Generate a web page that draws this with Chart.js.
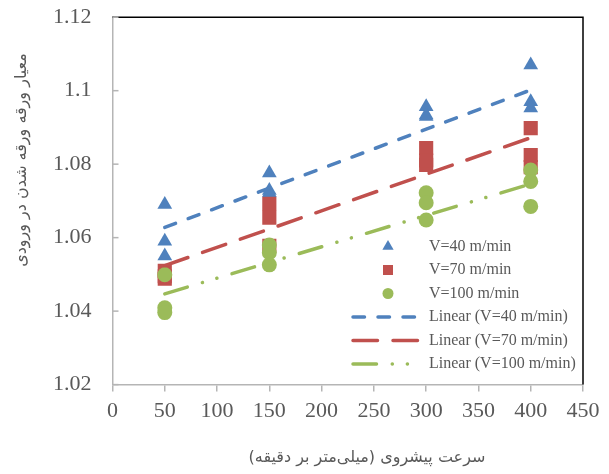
<!DOCTYPE html>
<html lang="fa">
<head>
<meta charset="UTF-8">
<title>Feed rate vs. entry delamination factor</title>
<script src="https://cdn.jsdelivr.net/npm/chart.js@4"></script>
<style>
  body { margin: 0; background: #fff; }
  canvas { display: block; }
</style>
</head>
<body>
<canvas id="myChart" width="609" height="474"></canvas>
<script>
// feed rate (mm/min) and three repeated measurements per feed rate
const feedRates = [50, 150, 300, 400];
const v40 = [[1.069, 1.059, 1.055], [1.0776, 1.0728, 1.0722], [1.0956, 1.0934, 1.093], [1.107, 1.097, 1.0953]];
const v70 = [[1.051, 1.0488, 1.0495], [1.0692, 1.0654, 1.0578], [1.0844, 1.0798, 1.081], [1.0898, 1.0825, 1.0792]];
const v100 = [[1.0499, 1.0409, 1.0396], [1.058, 1.0559, 1.0526], [1.0722, 1.0695, 1.0648], [1.0784, 1.0753, 1.0685]];

// trendline end points
const trendX = [50, 400];
const trend40 = [1.0628, 1.1002];
const trend70 = [1.0524, 1.0872];
const trend100 = [1.0447, 1.0746];

const seriesLabels = ['V=40 m/min', 'V=70 m/min', 'V=100 m/min'];
const yTitle = 'معیار ورقه ورقه شدن در ورودی';
const xTitle = 'سرعت پیشروی (میلی\u200cمتر بر دقیقه)';

const BLUE = '#4F81BD', RED = '#C0504D', GREEN = '#9BBB59';
const GREY_TEXT = '#595959', AXIS = '#b5b5b5';

function toPoints(xs, rows) {
  const pts = [];
  xs.forEach((x, i) => rows[i].forEach(y => pts.push({ x, y })));
  return pts;
}
function toLine(xs, ys) {
  return xs.map((x, i) => ({ x, y: ys[i] }));
}

function markerDataset(label, rows, color, style, radius, order) {
  return {
    type: 'scatter', label, data: toPoints(feedRates, rows),
    pointStyle: style, pointRadius: radius, backgroundColor: color,
    borderColor: color, borderWidth: 0, order
  };
}
function trendDataset(label, ys, color, dash) {
  return {
    type: 'line', label, data: toLine(trendX, ys),
    borderColor: color, borderWidth: 3.5, borderDash: dash,
    borderCapStyle: 'round', pointRadius: 0, fill: false, order: 0
  };
}

const datasets = [
  markerDataset(seriesLabels[0], v40, BLUE, 'triangle', 8.5, 3),
  markerDataset(seriesLabels[1], v70, RED, 'rect', 10, 2),
  markerDataset(seriesLabels[2], v100, GREEN, 'circle', 7.5, 1),
  trendDataset('Linear (' + seriesLabels[0] + ')', trend40, BLUE, [11.5, 13.5]),
  trendDataset('Linear (' + seriesLabels[1] + ')', trend70, RED, [24.5, 15.5]),
  trendDataset('Linear (' + seriesLabels[2] + ')', trend100, GREEN, [23.5, 15.75, 0.1, 15, 0.1, 15.75])
];

function drawMarker(ctx, style, x, y, r) {
  ctx.beginPath();
  if (style === 'triangle') {
    ctx.moveTo(x, y - r);
    ctx.lineTo(x + r * 0.866, y + r * 0.5);
    ctx.lineTo(x - r * 0.866, y + r * 0.5);
    ctx.closePath();
  } else if (style === 'rect') {
    ctx.rect(x - r, y - r, 2 * r, 2 * r);
  } else {
    ctx.arc(x, y, r, 0, Math.PI * 2);
  }
  ctx.fill();
}

const decor = {
  id: 'decor',
  afterDraw(chart) {
    const ctx = chart.ctx;
    const a = chart.chartArea;
    const ys = chart.scales.y;
    ctx.save();

    // black frame on top and right
    ctx.strokeStyle = '#000';
    ctx.lineWidth = 1.5;
    ctx.beginPath();
    ctx.moveTo(a.left, a.top);
    ctx.lineTo(a.right, a.top);
    ctx.lineTo(a.right, a.bottom);
    ctx.stroke();

    // inward y ticks
    ctx.strokeStyle = AXIS;
    ctx.lineWidth = 1.5;
    ys.ticks.forEach(t => {
      const py = ys.getPixelForValue(t.value);
      ctx.beginPath();
      ctx.moveTo(a.left, py);
      ctx.lineTo(a.left + 6, py);
      ctx.stroke();
    });

    // axis titles (Persian, right to left)
    ctx.fillStyle = GREY_TEXT;
    ctx.font = '16px "DejaVu Sans"';
    ctx.direction = 'rtl';
    ctx.textAlign = 'center';
    ctx.textBaseline = 'middle';
    ctx.fillText(xTitle, 367, 458);
    ctx.save();
    ctx.translate(22, 160);
    ctx.rotate(-Math.PI / 2);
    ctx.fillText(yTitle, 0, 0);
    ctx.restore();

    // legend inside the plot, lower right
    ctx.direction = 'ltr';
    ctx.textAlign = 'left';
    ctx.font = '16px "Liberation Serif"';
    const rowTop = 246.5, rowGap = 23.5;
    const symX = a.right - 195, lineX0 = a.right - 230, lineX1 = a.right - 161, textX = a.right - 154;
    chart.data.datasets.forEach((ds, i) => {
      const y = rowTop + i * rowGap;
      if (ds.type === 'scatter') {
        ctx.fillStyle = ds.backgroundColor;
        const r = ds.pointStyle === 'triangle' ? 6.5 : ds.pointStyle === 'rect' ? 5 : 5.5;
        drawMarker(ctx, ds.pointStyle, symX, y, r);
      } else {
        ctx.strokeStyle = ds.borderColor;
        ctx.lineWidth = ds.borderWidth;
        ctx.lineCap = 'round';
        ctx.setLineDash(ds.borderDash);
        ctx.beginPath();
        ctx.moveTo(lineX0, y);
        ctx.lineTo(lineX1, y);
        ctx.stroke();
        ctx.setLineDash([]);
      }
      ctx.fillStyle = GREY_TEXT;
      ctx.fillText(ds.label, textX, y);
    });

    ctx.restore();
  }
};

new Chart(document.getElementById('myChart'), {
  data: { datasets },
  plugins: [decor],
  options: {
    responsive: false,
    animation: false,
    events: [],
    layout: { padding: { top: 0, right: 26, left: 49, bottom: 44 } },
    plugins: { legend: { display: false }, tooltip: { enabled: false } },
    scales: {
      x: {
        type: 'linear', min: 0, max: 450,
        ticks: { stepSize: 50, color: GREY_TEXT, padding: 6, font: { family: 'Liberation Serif', size: 22 } },
        grid: { drawOnChartArea: false, drawTicks: true, tickLength: 7, color: AXIS, lineWidth: 1.5 },
        border: { display: true, color: AXIS, width: 1.5 }
      },
      y: {
        type: 'linear', min: 1.02, max: 1.12,
        ticks: {
          stepSize: 0.02, color: GREY_TEXT, padding: 4,
          font: { family: 'Liberation Serif', size: 22 },
          callback: v => String(parseFloat(v.toFixed(2)))
        },
        // invisible outer ticks only keep the gap between labels and axis
        grid: { drawOnChartArea: false, drawTicks: true, tickLength: 17, tickColor: 'rgba(0,0,0,0)' },
        border: { display: true, color: AXIS, width: 1.5 }
      }
    }
  }
});
</script>
</body>
</html>
